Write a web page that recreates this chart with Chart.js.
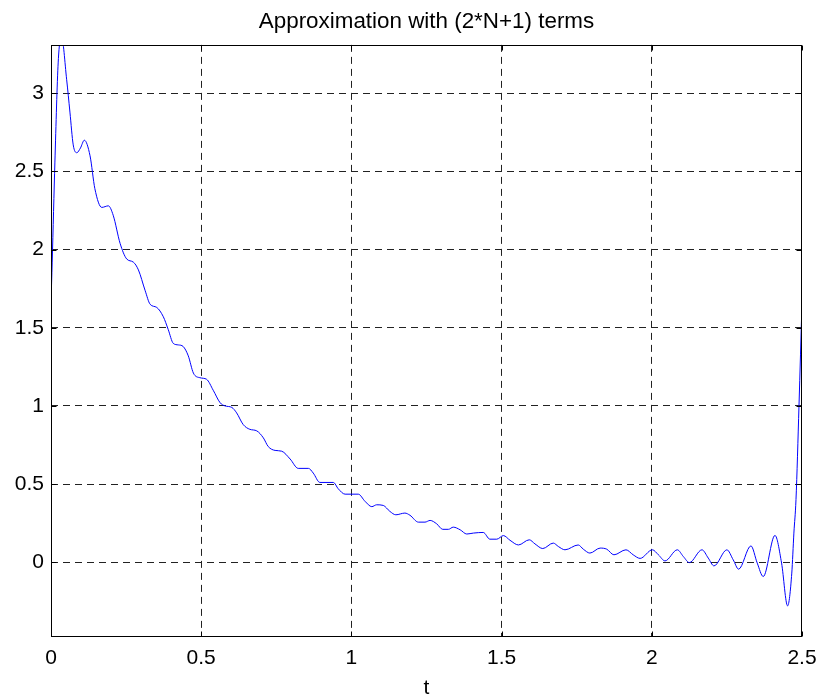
<!DOCTYPE html>
<html>
<head>
<meta charset="utf-8">
<title>Approximation with (2*N+1) terms</title>
<script src="https://cdn.jsdelivr.net/npm/chart.js@4/dist/chart.umd.min.js"></script>
<style>
  html, body { margin: 0; padding: 0; background: #fff; }
  #wrap { width: 820px; height: 698px; }
</style>
</head>
<body>
<div id="wrap"><canvas id="approxChart" width="820" height="698"></canvas></div>
<script>
// --- data ---
const tValues = [
    0.000, 0.004, 0.013, 0.024, 0.035, 0.052, 0.063, 0.074, 0.086, 0.098,
    0.111, 0.130, 0.146, 0.169, 0.191, 0.207, 0.230, 0.252, 0.274, 0.291,
    0.313, 0.330, 0.352, 0.374, 0.390, 0.407, 0.424, 0.440, 0.457, 0.474,
    0.496, 0.518, 0.540, 0.563, 0.579, 0.602, 0.618, 0.640, 0.662, 0.685,
    0.707, 0.723, 0.746, 0.768, 0.796, 0.823, 0.857, 0.873, 0.895, 0.940,
    0.956, 0.979, 1.023, 1.045, 1.068, 1.084, 1.106, 1.128, 1.148, 1.178,
    1.195, 1.223, 1.245, 1.262, 1.284, 1.304, 1.323, 1.339, 1.362, 1.384,
    1.406, 1.439, 1.461, 1.484, 1.506, 1.528, 1.556, 1.592, 1.611, 1.637,
    1.672, 1.689, 1.711, 1.755, 1.772, 1.794, 1.828, 1.850, 1.874, 1.914,
    1.938, 1.961, 2.002, 2.022, 2.044, 2.085, 2.105, 2.125, 2.167, 2.188,
    2.207, 2.250, 2.271, 2.289, 2.330, 2.351, 2.371, 2.410, 2.432, 2.452,
    2.466, 2.473, 2.480, 2.490, 2.500
];
const fValues = [
    1.66, 1.92, 2.56, 3.20, 3.36, 3.09, 2.88, 2.67, 2.62, 2.65,
    2.70, 2.60, 2.39, 2.27, 2.28, 2.22, 2.04, 1.94, 1.92, 1.87,
    1.74, 1.65, 1.63, 1.57, 1.49, 1.40, 1.39, 1.38, 1.32, 1.21,
    1.18, 1.17, 1.10, 1.02, 1.00, 0.99, 0.955, 0.88, 0.85, 0.84,
    0.795, 0.74, 0.715, 0.71, 0.66, 0.60, 0.60, 0.57, 0.51, 0.51,
    0.47, 0.435, 0.435, 0.39, 0.355, 0.367, 0.363, 0.325, 0.303, 0.314,
    0.300, 0.256, 0.256, 0.267, 0.245, 0.210, 0.210, 0.224, 0.207, 0.180,
    0.186, 0.190, 0.147, 0.147, 0.170, 0.140, 0.110, 0.143, 0.117, 0.087,
    0.122, 0.100, 0.079, 0.110, 0.083, 0.058, 0.090, 0.083, 0.047, 0.079,
    0.047, 0.024, 0.079, 0.047, 0.008, 0.079, 0.036, -0.003, 0.079, 0.026,
    -0.024, 0.079, 0.015, -0.045, 0.104, -0.006, -0.092, 0.171, -0.006, -0.280,
    -0.070, 0.186, 0.400, 1.000, 1.660
];
const xTicks = [0, 0.5, 1, 1.5, 2, 2.5];
const yTicks = [0, 0.5, 1, 1.5, 2, 2.5, 3];
const xMin = 0, xMax = 2.5;
const yMin = -0.479, yMax = 3.31;

const points = tValues.map((t, i) => ({ x: t, y: fValues[i] }));

// box around the axes with inward tick marks, matlab style
const boxPlugin = {
    id: 'boxPlugin',
    afterDraw(chart) {
        const { ctx, scales } = chart;
        const len = 5;
        const L = Math.round(scales.x.getPixelForValue(xMin)) + 0.5;
        const R = Math.round(scales.x.getPixelForValue(xMax)) - 0.5;
        const T = Math.round(scales.y.getPixelForValue(yMax)) + 0.5;
        const B = Math.round(scales.y.getPixelForValue(yMin)) - 0.5;
        ctx.save();
        ctx.strokeStyle = '#000';
        ctx.lineWidth = 1;
        ctx.strokeRect(L, T, R - L, B - T);
        ctx.beginPath();
        xTicks.forEach(v => {
            const px = Math.round(scales.x.getPixelForValue(v)) + 0.5;
            ctx.moveTo(px, T); ctx.lineTo(px, T + len);
            ctx.moveTo(px, B); ctx.lineTo(px, B - len);
        });
        yTicks.forEach(v => {
            const py = Math.round(scales.y.getPixelForValue(v)) + 0.5;
            ctx.moveTo(L, py); ctx.lineTo(L + len, py);
            ctx.moveTo(R, py); ctx.lineTo(R - len, py);
        });
        ctx.stroke();
        ctx.restore();
    }
};

const tickFont = { family: 'Liberation Sans, Arial, sans-serif', size: 21 };
const fmt = v => String(Math.round(v * 100) / 100);
const gridColor = c => (c.tick && (c.tick.value === xMin || c.tick.value === xMax)) ? 'rgba(0,0,0,0)' : '#222';

new Chart(document.getElementById('approxChart'), {
    type: 'scatter',
    data: {
        datasets: [{
            data: points,
            showLine: true,
            borderColor: '#0000ff',
            borderWidth: 1,
            pointRadius: 0,
            cubicInterpolationMode: 'monotone',
            fill: false
        }]
    },
    options: {
        responsive: false,
        animation: false,
        events: [],
        layout: { padding: { left: 0, right: 18, top: 0, bottom: -3 } },
        plugins: {
            legend: { display: false },
            tooltip: { enabled: false },
            title: {
                display: true,
                fullSize: false,
                text: 'Approximation with (2*N+1) terms',
                color: '#000',
                font: { family: 'Liberation Sans, Arial, sans-serif', size: 22.4, weight: 'normal' },
                padding: { top: 8, bottom: 10 }
            }
        },
        scales: {
            x: {
                type: 'linear',
                min: xMin,
                max: xMax,
                afterBuildTicks: s => { s.ticks = xTicks.map(v => ({ value: v })); },
                afterFit: s => { s.height = 64; s.paddingLeft = 0; s.paddingRight = 0; },
                ticks: { color: '#000', font: tickFont, padding: 9, maxRotation: 0, callback: fmt },
                grid: { color: gridColor, lineWidth: 1, drawTicks: false },
                border: { display: false, dash: [7, 5] },
                title: {
                    display: true, text: 't', color: '#000',
                    font: tickFont, padding: { top: 0, bottom: 0 }
                }
            },
            y: {
                type: 'linear',
                min: yMin,
                max: yMax,
                afterBuildTicks: s => { s.ticks = yTicks.map(v => ({ value: v })); },
                afterFit: s => { s.width = 51; s.paddingTop = 0; s.paddingBottom = 0; },
                ticks: { color: '#000', font: tickFont, padding: 7, callback: fmt },
                grid: { color: '#222', lineWidth: 1, drawTicks: false },
                border: { display: false, dash: [7, 5] }
            }
        }
    },
    plugins: [boxPlugin]
});
</script>
</body>
</html>
